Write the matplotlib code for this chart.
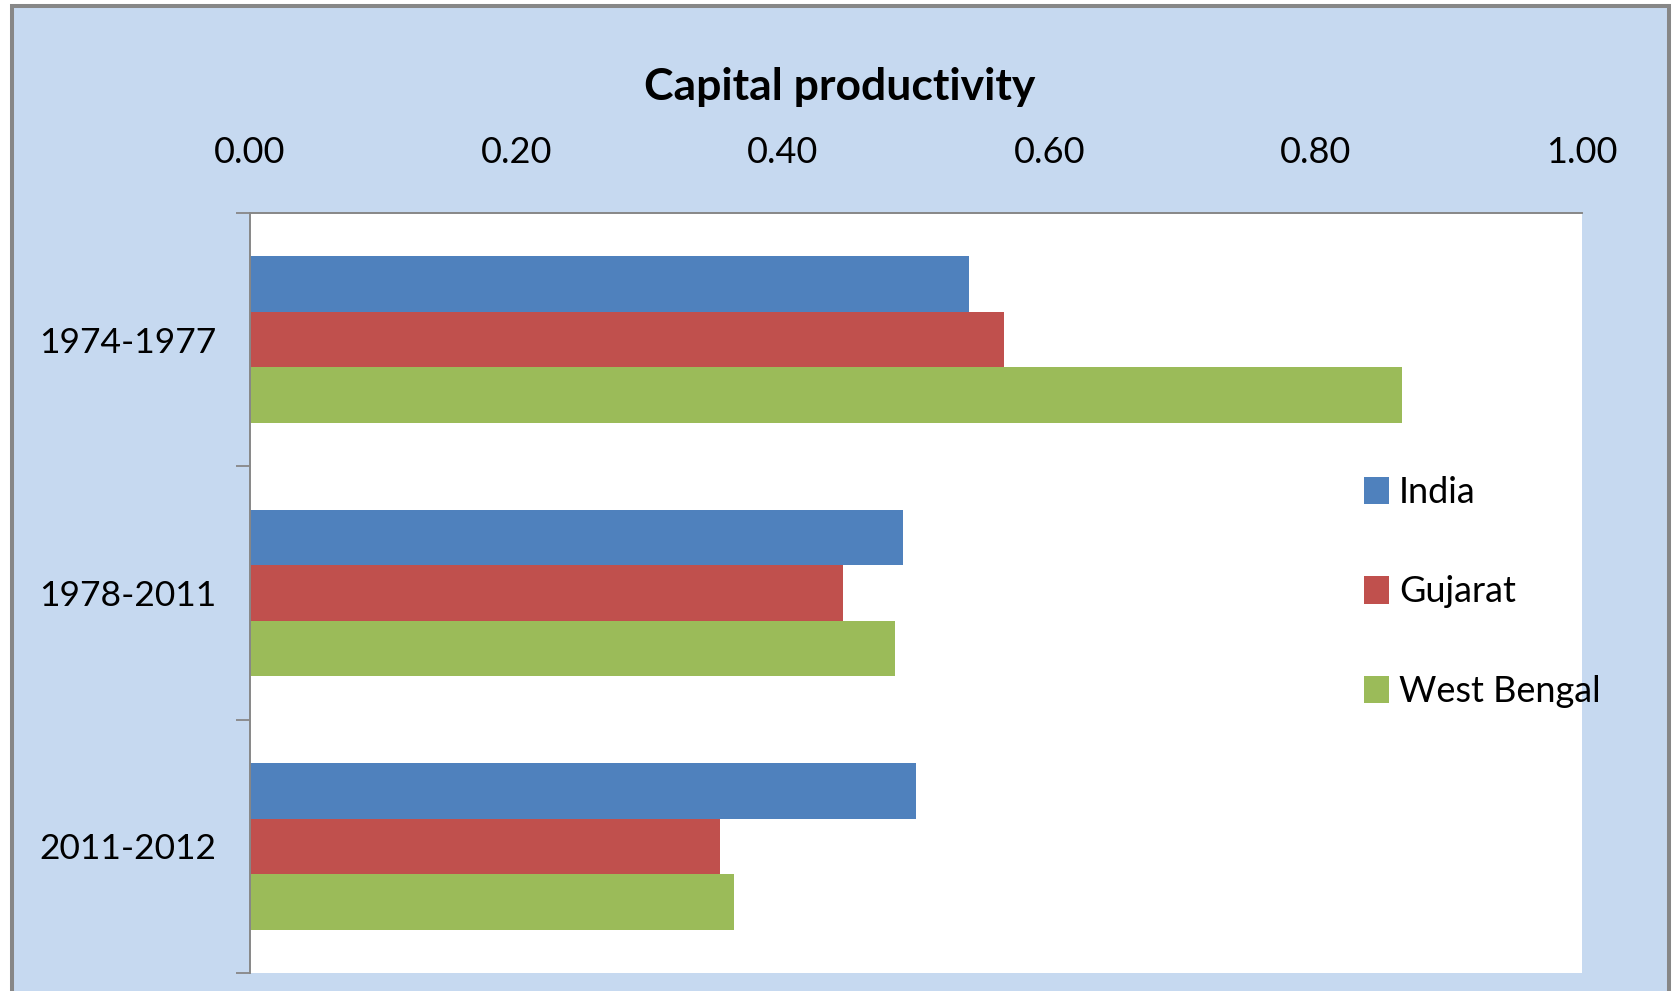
import matplotlib
matplotlib.use("Agg")
import matplotlib.pyplot as plt
from matplotlib.patches import Rectangle
import numpy as np

# Data
periods = ["1974-1977", "1978-2011", "2011-2012"]
series_names = ["India", "Gujarat", "West Bengal"]
india = [0.54, 0.49, 0.50]
gujarat = [0.566, 0.445, 0.353]
west_bengal = [0.865, 0.484, 0.363]
x_ticks = [0.0, 0.2, 0.4, 0.6, 0.8, 1.0]
title = "Capital productivity"

colors = ["#4F81BD", "#C0504D", "#9BBB59"]
panel_blue = "#C6D9F0"
frame_gray = "#878787"

plt.rcParams["font.family"] = ["Lato", "DejaVu Sans"]

W, H = 1675, 991
fig = plt.figure(figsize=(W / 100, H / 100), dpi=100, facecolor="white")

# Blue chart panel with grey frame (bottom edge runs off the canvas)
panel = Rectangle((12 / W, -0.05), (1668.7 - 12) / W, 1.05 - 6 / H,
                  transform=fig.transFigure, facecolor=panel_blue,
                  edgecolor=frame_gray, linewidth=2.9, clip_on=False, zorder=-5)
fig.patches.append(panel)

left, right, top, bottom = 250, 1582, 213, 973
ax = fig.add_axes([left / W, 1 - bottom / H, (right - left) / W, (bottom - top) / H])
ax.set_facecolor("white")

y = np.arange(len(periods))
bar_h = 0.219
for k, (name, vals) in enumerate(zip(series_names, [india, gujarat, west_bengal])):
    ax.barh(y + (k - 1) * bar_h, vals, height=bar_h, color=colors[k],
            label=name, edgecolor="none", zorder=2)

ax.set_xlim(0, 1.0)
ax.set_ylim(len(periods) - 0.5, -0.5)

# Value axis along the top
ax.xaxis.tick_top()
ax.set_xticks(x_ticks)
ax.set_xticklabels([f"{v:.2f}" for v in x_ticks], fontsize=26)
ax.tick_params(axis="x", length=0, pad=32)

# Category axis: labels centred on groups, tick marks between groups
ax.set_yticks(y)
ax.set_yticklabels(periods, fontsize=25.5)
ax.tick_params(axis="y", which="major", length=0, pad=24.5)
ax.set_yticks(np.arange(-0.5, len(periods), 1.0), minor=True)
ax.tick_params(axis="y", which="minor", length=10, width=1.3, color=frame_gray,
               direction="out")

for side in ("right", "bottom"):
    ax.spines[side].set_visible(False)
for side in ("left", "top"):
    ax.spines[side].set_color(frame_gray)
    ax.spines[side].set_linewidth(1.4)

fig.text(840 / W, 1 - 100 / H, title, ha="center", va="baseline",
         fontsize=32, fontweight="bold")

ax.legend(loc="center left",
          bbox_to_anchor=((1364 - left) / (right - left), (bottom - 592) / (bottom - top)),
          frameon=False, fontsize=26, handlelength=0.69, handleheight=0.78,
          handletextpad=0.28, labelspacing=1.85, borderpad=0, borderaxespad=0)

fig.savefig("out.png", dpi=100, facecolor=fig.get_facecolor())
